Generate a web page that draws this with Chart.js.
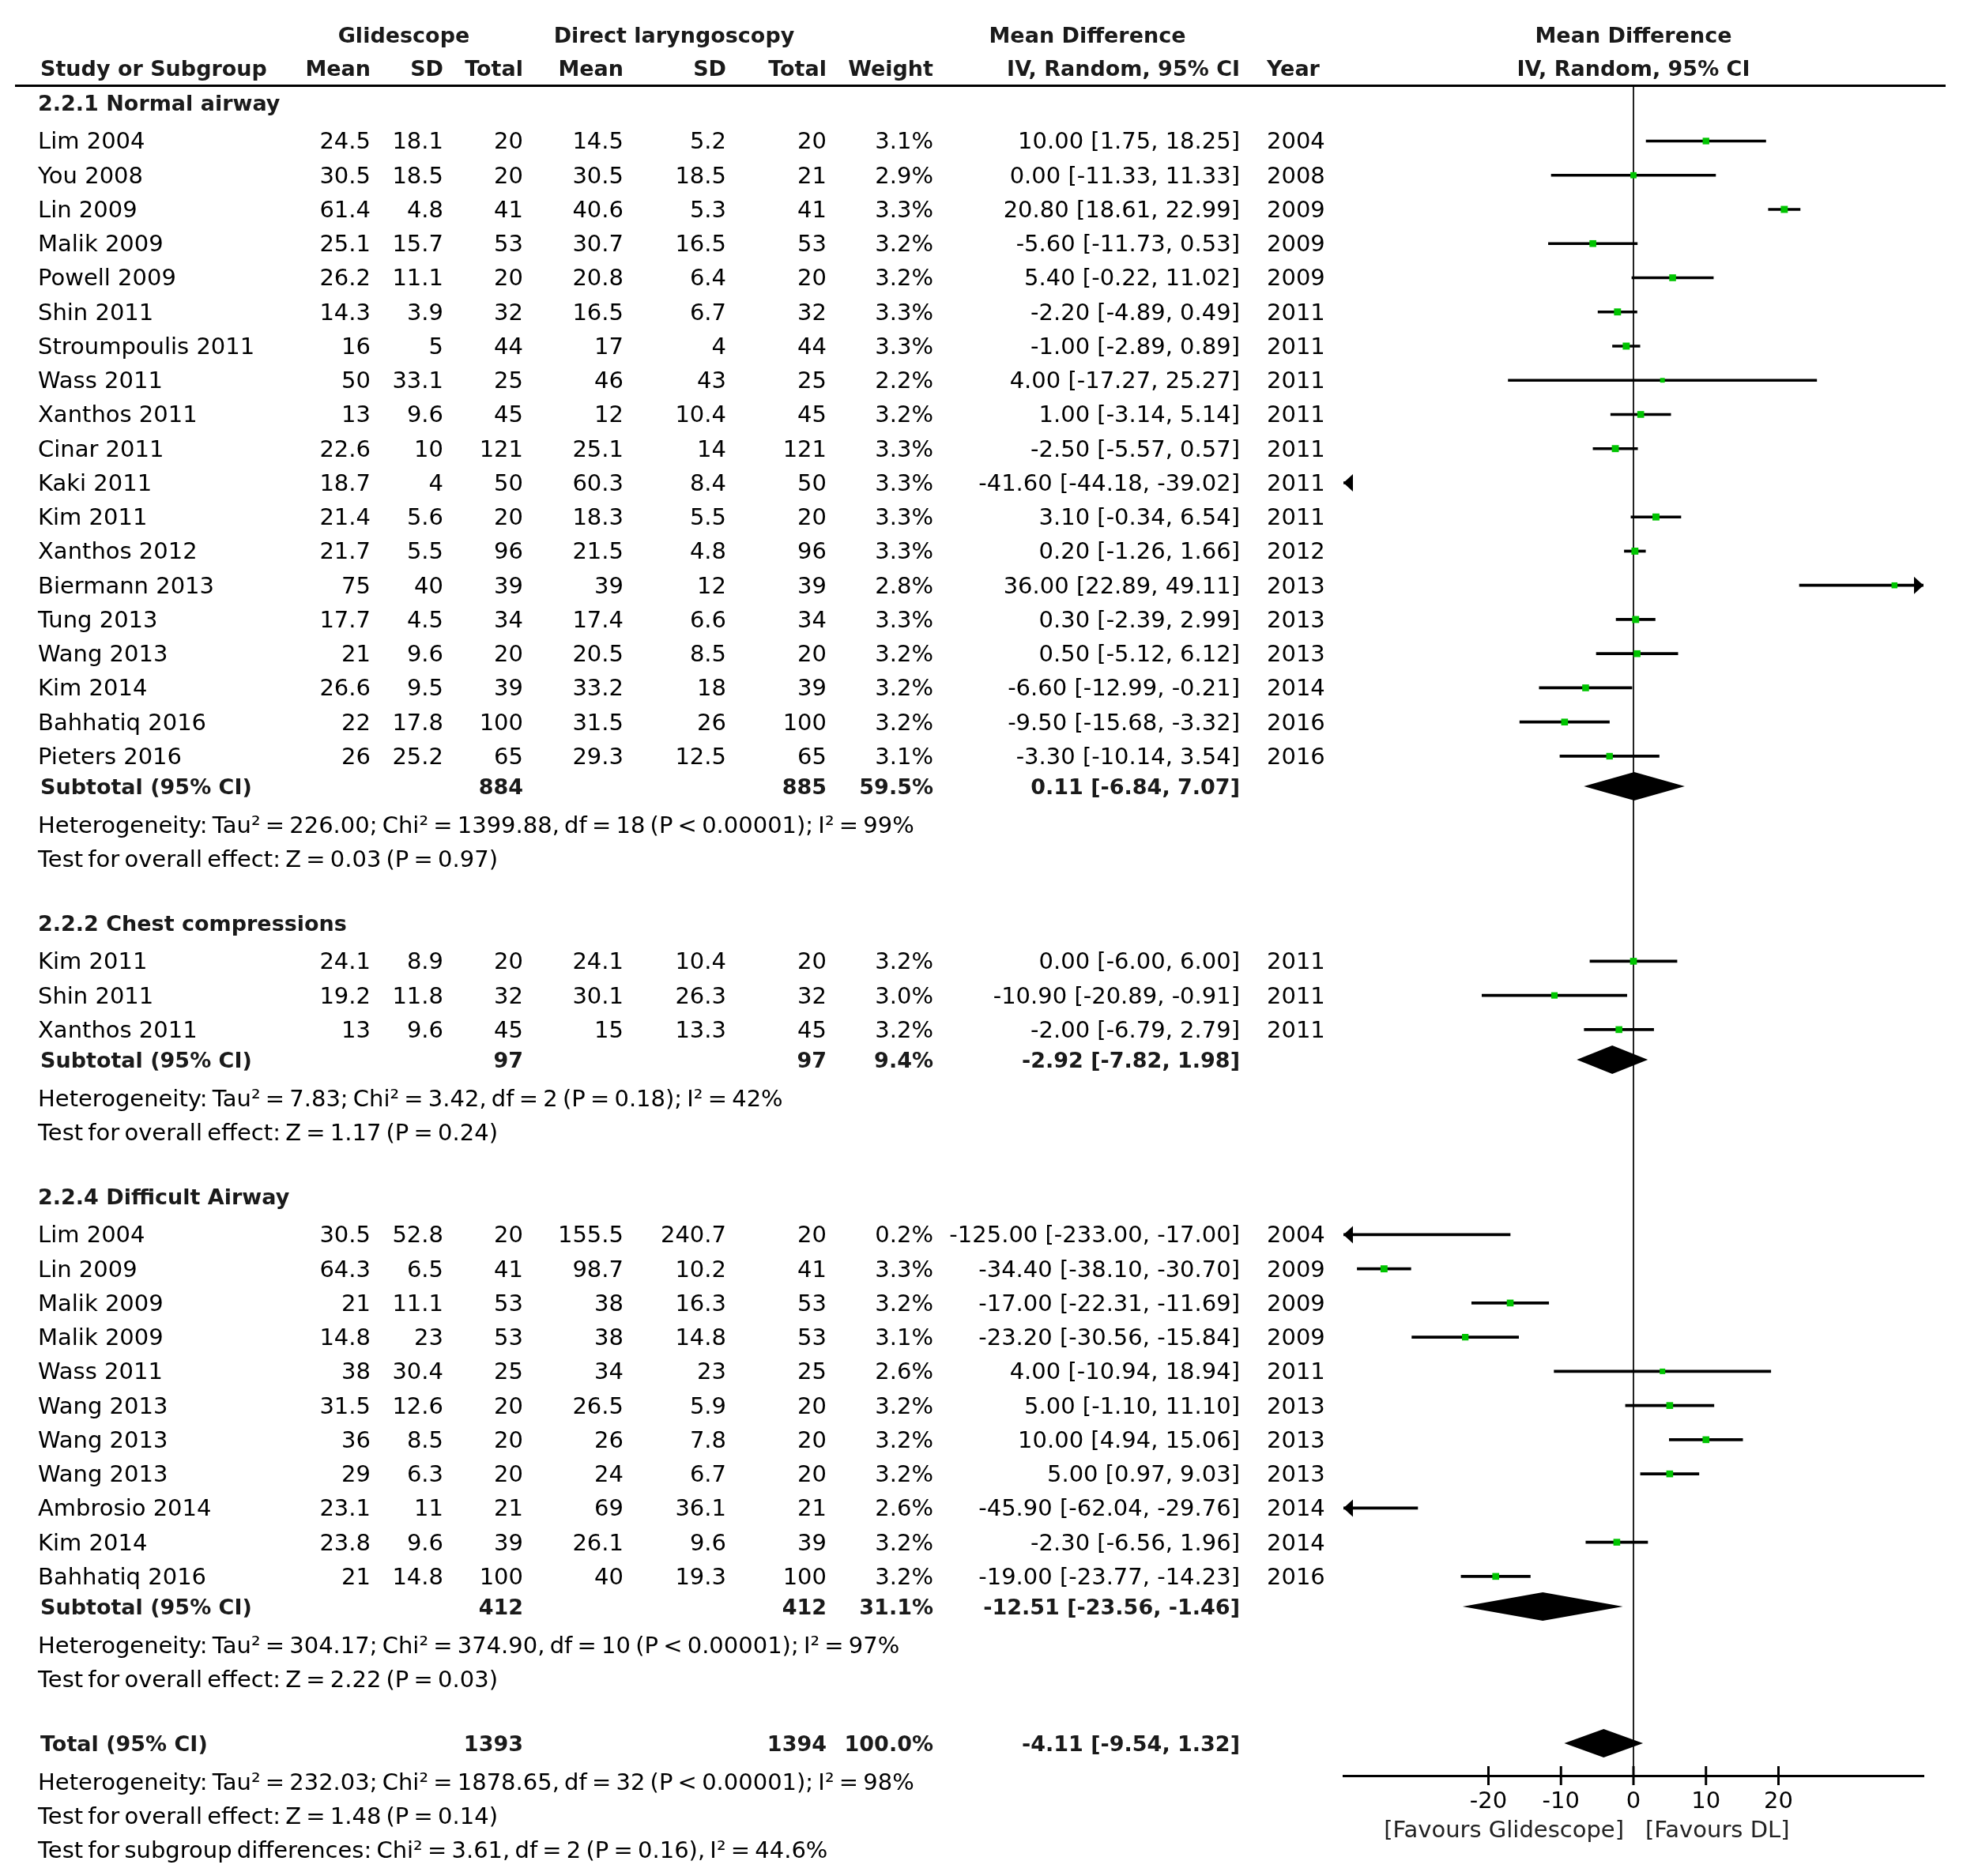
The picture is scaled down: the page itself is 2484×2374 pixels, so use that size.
<!DOCTYPE html>
<html>
<head>
<meta charset="utf-8">
<script src="https://cdn.jsdelivr.net/npm/chart.js@4.4.0/dist/chart.umd.min.js"></script>
<style>
  html, body { margin: 0; padding: 0; background: #fff; }
  #page { position: relative; width: 2484px; height: 2374px; overflow: hidden; background: #fff; }
  #plot { position: absolute; left: 0; top: 0; }
  .t { position: absolute; white-space: nowrap; line-height: 1; font-family: 'DejaVu Sans', sans-serif; font-size: 29px; color: #000; }
  .b { font-weight: bold; font-size: 27px; color: #1a1a1a; }
  .note { word-spacing: -3px; }
  .fav { color: #222; }
  #rule { position: absolute; left: 19px; width: 2443px; top: 107px; height: 3px; background: #000; }
</style>
</head>
<body>
<div id="page">
  <canvas id="plot" width="2484" height="2374"></canvas>
  <div id="rule"></div>
</div>
<script>
// ---- 2.2.1 Normal airway
const studies1 = ['Lim 2004', 'You 2008', 'Lin 2009', 'Malik 2009', 'Powell 2009', 'Shin 2011', 'Stroumpoulis 2011', 'Wass 2011', 'Xanthos 2011', 'Cinar 2011', 'Kaki 2011', 'Kim 2011', 'Xanthos 2012', 'Biermann 2013', 'Tung 2013', 'Wang 2013', 'Kim 2014', 'Bahhatiq 2016', 'Pieters 2016'];
const gMean1 = [24.5, 30.5, 61.4, 25.1, 26.2, 14.3, 16, 50, 13, 22.6, 18.7, 21.4, 21.7, 75, 17.7, 21, 26.6, 22, 26];
const gSD1 = [18.1, 18.5, 4.8, 15.7, 11.1, 3.9, 5, 33.1, 9.6, 10, 4, 5.6, 5.5, 40, 4.5, 9.6, 9.5, 17.8, 25.2];
const gN1 = [20, 20, 41, 53, 20, 32, 44, 25, 45, 121, 50, 20, 96, 39, 34, 20, 39, 100, 65];
const dMean1 = [14.5, 30.5, 40.6, 30.7, 20.8, 16.5, 17, 46, 12, 25.1, 60.3, 18.3, 21.5, 39, 17.4, 20.5, 33.2, 31.5, 29.3];
const dSD1 = [5.2, 18.5, 5.3, 16.5, 6.4, 6.7, 4, 43, 10.4, 14, 8.4, 5.5, 4.8, 12, 6.6, 8.5, 18, 26, 12.5];
const dN1 = [20, 21, 41, 53, 20, 32, 44, 25, 45, 121, 50, 20, 96, 39, 34, 20, 39, 100, 65];
const weight1 = [3.1, 2.9, 3.3, 3.2, 3.2, 3.3, 3.3, 2.2, 3.2, 3.3, 3.3, 3.3, 3.3, 2.8, 3.3, 3.2, 3.2, 3.2, 3.1];
const md1 = [10.00, 0.00, 20.80, -5.60, 5.40, -2.20, -1.00, 4.00, 1.00, -2.50, -41.60, 3.10, 0.20, 36.00, 0.30, 0.50, -6.60, -9.50, -3.30];
const lo1 = [1.75, -11.33, 18.61, -11.73, -0.22, -4.89, -2.89, -17.27, -3.14, -5.57, -44.18, -0.34, -1.26, 22.89, -2.39, -5.12, -12.99, -15.68, -10.14];
const hi1 = [18.25, 11.33, 22.99, 0.53, 11.02, 0.49, 0.89, 25.27, 5.14, 0.57, -39.02, 6.54, 1.66, 49.11, 2.99, 6.12, -0.21, -3.32, 3.54];
const year1 = [2004, 2008, 2009, 2009, 2009, 2011, 2011, 2011, 2011, 2011, 2011, 2011, 2012, 2013, 2013, 2013, 2014, 2016, 2016];

// ---- 2.2.2 Chest compressions
const studies2 = ['Kim 2011', 'Shin 2011', 'Xanthos 2011'];
const gMean2 = [24.1, 19.2, 13];
const gSD2 = [8.9, 11.8, 9.6];
const gN2 = [20, 32, 45];
const dMean2 = [24.1, 30.1, 15];
const dSD2 = [10.4, 26.3, 13.3];
const dN2 = [20, 32, 45];
const weight2 = [3.2, 3.0, 3.2];
const md2 = [0.00, -10.90, -2.00];
const lo2 = [-6.00, -20.89, -6.79];
const hi2 = [6.00, -0.91, 2.79];
const year2 = [2011, 2011, 2011];

// ---- 2.2.4 Difficult Airway
const studies3 = ['Lim 2004', 'Lin 2009', 'Malik 2009', 'Malik 2009', 'Wass 2011', 'Wang 2013', 'Wang 2013', 'Wang 2013', 'Ambrosio 2014', 'Kim 2014', 'Bahhatiq 2016'];
const gMean3 = [30.5, 64.3, 21, 14.8, 38, 31.5, 36, 29, 23.1, 23.8, 21];
const gSD3 = [52.8, 6.5, 11.1, 23, 30.4, 12.6, 8.5, 6.3, 11, 9.6, 14.8];
const gN3 = [20, 41, 53, 53, 25, 20, 20, 20, 21, 39, 100];
const dMean3 = [155.5, 98.7, 38, 38, 34, 26.5, 26, 24, 69, 26.1, 40];
const dSD3 = [240.7, 10.2, 16.3, 14.8, 23, 5.9, 7.8, 6.7, 36.1, 9.6, 19.3];
const dN3 = [20, 41, 53, 53, 25, 20, 20, 20, 21, 39, 100];
const weight3 = [0.2, 3.3, 3.2, 3.1, 2.6, 3.2, 3.2, 3.2, 2.6, 3.2, 3.2];
const md3 = [-125.00, -34.40, -17.00, -23.20, 4.00, 5.00, 10.00, 5.00, -45.90, -2.30, -19.00];
const lo3 = [-233.00, -38.10, -22.31, -30.56, -10.94, -1.10, 4.94, 0.97, -62.04, -6.56, -23.77];
const hi3 = [-17.00, -30.70, -11.69, -15.84, 18.94, 11.10, 15.06, 9.03, -29.76, 1.96, -14.23];
const year3 = [2004, 2009, 2009, 2009, 2011, 2013, 2013, 2013, 2014, 2014, 2016];

// ---- subtotals and total
const subTitles = ['2.2.1 Normal airway', '2.2.2 Chest compressions', '2.2.4 Difficult Airway'];
const subGN = [884, 97, 412];
const subDN = [885, 97, 412];
const subWeight = [59.5, 9.4, 31.1];
const subMD = [0.11, -2.92, -12.51];
const subLo = [-6.84, -7.82, -23.56];
const subHi = [7.07, 1.98, -1.46];
const subHet = [
  'Heterogeneity: Tau\u00b2 = 226.00; Chi\u00b2 = 1399.88, df = 18 (P < 0.00001); I\u00b2 = 99%',
  'Heterogeneity: Tau\u00b2 = 7.83; Chi\u00b2 = 3.42, df = 2 (P = 0.18); I\u00b2 = 42%',
  'Heterogeneity: Tau\u00b2 = 304.17; Chi\u00b2 = 374.90, df = 10 (P < 0.00001); I\u00b2 = 97%'
];
const subTest = [
  'Test for overall effect: Z = 0.03 (P = 0.97)',
  'Test for overall effect: Z = 1.17 (P = 0.24)',
  'Test for overall effect: Z = 2.22 (P = 0.03)'
];
const totalGN = 1393;
const totalDN = 1394;
const totalWeight = 100.0;
const totalMD = -4.11;
const totalLo = -9.54;
const totalHi = 1.32;
const totalNotes = [
  'Heterogeneity: Tau\u00b2 = 232.03; Chi\u00b2 = 1878.65, df = 32 (P < 0.00001); I\u00b2 = 98%',
  'Test for overall effect: Z = 1.48 (P = 0.14)',
  'Test for subgroup differences: Chi\u00b2 = 3.61, df = 2 (P = 0.16), I\u00b2 = 44.6%'
];

// ---- axis
const xMin = -40;
const xMax = 40;
const tickValues = [-20, -10, 0, 10, 20];
const tickLabels = ['-20', '-10', '0', '10', '20'];
const favours = ['[Favours Glidescope]', '[Favours DL]'];

const groups = [
  { studies: studies1, gMean: gMean1, gSD: gSD1, gN: gN1, dMean: dMean1, dSD: dSD1, dN: dN1, weight: weight1, md: md1, lo: lo1, hi: hi1, year: year1 },
  { studies: studies2, gMean: gMean2, gSD: gSD2, gN: gN2, dMean: dMean2, dSD: dSD2, dN: dN2, weight: weight2, md: md2, lo: lo2, hi: hi2, year: year2 },
  { studies: studies3, gMean: gMean3, gSD: gSD3, gN: gN3, dMean: dMean3, dSD: dSD3, dN: dN3, weight: weight3, md: md3, lo: lo3, hi: hi3, year: year3 }
];

// row layout, in row units
const RULE_POS = 2.49;
const FIRST = 1.12, SUB = 0.88, HET = 1.13, GAP = 1.87;

const studyRows = [];
const sumRows = [];
const textRows = [];
let pos = 3.0;
groups.forEach((g, gi) => {
  textRows.push({ pos, kind: 'title', gi });
  pos += FIRST;
  g.studies.forEach((s, si) => {
    studyRows.push({ pos, gi, si, md: g.md[si], lo: g.lo[si], hi: g.hi[si], weight: g.weight[si] });
    pos += 1;
  });
  pos += SUB - 1;
  sumRows.push({ pos, md: subMD[gi], lo: subLo[gi], hi: subHi[gi], gi });
  pos += HET;
  textRows.push({ pos, kind: 'het', gi });
  pos += 1;
  textRows.push({ pos, kind: 'test', gi });
  pos += GAP;
});
const totalPos = pos;
sumRows.push({ pos: totalPos, md: totalMD, lo: totalLo, hi: totalHi, gi: -1 });
const axisPos = totalPos + 0.95;

const fmt2 = v => v.toFixed(2);
const ciText = (m, l, h) => `${fmt2(m)} [${fmt2(l)}, ${fmt2(h)}]`;

function arrowHead(ctx, tipX, cy, dir) {
  ctx.beginPath();
  ctx.moveTo(tipX, cy);
  ctx.lineTo(tipX - dir * 12, cy - 11);
  ctx.lineTo(tipX - dir * 12, cy + 11);
  ctx.closePath();
  ctx.fill();
}

const forestExtras = {
  id: 'forestExtras',
  afterDatasetsDraw(chart) {
    const { ctx, chartArea } = chart;
    const x = chart.scales.x, y = chart.scales.y;
    ctx.save();
    ctx.fillStyle = '#000';
    sumRows.forEach(s => {
      const cy = y.getPixelForValue(s.pos);
      ctx.beginPath();
      ctx.moveTo(x.getPixelForValue(s.lo), cy);
      ctx.lineTo(x.getPixelForValue(s.md), cy - 18);
      ctx.lineTo(x.getPixelForValue(s.hi), cy);
      ctx.lineTo(x.getPixelForValue(s.md), cy + 18);
      ctx.closePath();
      ctx.fill();
    });
    studyRows.forEach(r => {
      const cy = y.getPixelForValue(r.pos);
      if (r.lo < x.min) arrowHead(ctx, chartArea.left, cy, -1);
      if (r.hi > x.max) arrowHead(ctx, chartArea.right, cy, 1);
    });
    ctx.strokeStyle = '#000';
    ctx.lineWidth = 3;
    x.ticks.forEach(t => {
      const px = x.getPixelForValue(t.value);
      ctx.beginPath();
      ctx.moveTo(px, chartArea.bottom - 12);
      ctx.lineTo(px, chartArea.bottom + 12);
      ctx.stroke();
    });
    ctx.restore();
  }
};

const chart = new Chart(document.getElementById('plot'), {
  type: 'scatter',
  data: {
    datasets: [
      {
        label: 'Study estimate',
        data: studyRows.map(r => ({ x: r.md, y: r.pos })),
        pointStyle: 'rect',
        pointRadius: studyRows.map(r => r.weight * 1.9),
        backgroundColor: '#00c400',
        borderWidth: 0,
        clip: 0
      },
      {
        type: 'bar',
        label: '95% CI',
        indexAxis: 'y',
        data: studyRows.map(r => ({ x: [r.lo, r.hi], y: r.pos })),
        backgroundColor: '#000',
        borderWidth: 0,
        barThickness: 3,
        clip: 0
      }
    ]
  },
  options: {
    responsive: false,
    animation: false,
    devicePixelRatio: 1,
    layout: { padding: { left: 1700, right: 50, top: 108, bottom: 67 } },
    plugins: { legend: { display: false }, tooltip: { enabled: false } },
    scales: {
      x: {
        type: 'linear',
        min: xMin,
        max: xMax,
        offset: false,
        beginAtZero: false,
        afterBuildTicks: s => { s.ticks = tickValues.map(v => ({ value: v })); },
        afterFit: s => { s.height = 60; },
        ticks: {
          autoSkip: false,
          maxRotation: 0,
          padding: 16,
          color: '#000',
          font: { family: 'DejaVu Sans', size: 29 },
          callback: (v, i) => tickLabels[i]
        },
        grid: {
          offset: false,
          drawTicks: false,
          lineWidth: 2,
          color: c => (c.tick && c.tick.value === 0) ? '#222' : 'rgba(0,0,0,0)'
        },
        border: { display: true, color: '#000', width: 3 }
      },
      y: {
        type: 'linear',
        display: false,
        reverse: true,
        offset: false,
        beginAtZero: false,
        grace: 0,
        grid: { offset: false },
        min: RULE_POS,
        max: axisPos
      }
    }
  },
  plugins: [forestExtras]
});

// ---- table text
const PAGE_W = 2484;
const COL = { name: 48, gMean: 469, gSD: 561, gN: 662, dMean: 789, dSD: 919, dN: 1046, weight: 1181, ci: 1569, year: 1603 };
const page = document.getElementById('page');

function put(str, x, yPx, align, cls) {
  const el = document.createElement('div');
  el.className = 't' + (cls ? ' ' + cls : '');
  el.textContent = str;
  el.style.top = yPx + 'px';
  if (align === 'left') {
    el.style.left = x + 'px';
    el.style.transform = 'translateY(-50%)';
  } else if (align === 'right') {
    el.style.right = (PAGE_W - x) + 'px';
    el.style.transform = 'translateY(-50%)';
  } else {
    el.style.left = x + 'px';
    el.style.transform = 'translate(-50%, -50%)';
  }
  page.appendChild(el);
}
const yOf = p => chart.scales.y.getPixelForValue(p);
const zeroX = chart.scales.x.getPixelForValue(0);

// header
const h1 = yOf(1.0), h2 = yOf(1.99);
put('Glidescope', 511, h1, 'center', 'b');
put('Direct laryngoscopy', 853, h1, 'center', 'b');
put('Mean Difference', 1376, h1, 'center', 'b');
put('Mean Difference', zeroX, h1, 'center', 'b');
put('Study or Subgroup', 51, h2, 'left', 'b');
put('Mean', COL.gMean, h2, 'right', 'b');
put('SD', COL.gSD, h2, 'right', 'b');
put('Total', COL.gN, h2, 'right', 'b');
put('Mean', COL.dMean, h2, 'right', 'b');
put('SD', COL.dSD, h2, 'right', 'b');
put('Total', COL.dN, h2, 'right', 'b');
put('Weight', COL.weight, h2, 'right', 'b');
put('IV, Random, 95% CI', COL.ci, h2, 'right', 'b');
put('Year', COL.year, h2, 'left', 'b');
put('IV, Random, 95% CI', zeroX, h2, 'center', 'b');

textRows.forEach(t => {
  const yy = yOf(t.pos);
  if (t.kind === 'title') put(subTitles[t.gi], COL.name, yy, 'left', 'b');
  else if (t.kind === 'het') put(subHet[t.gi], COL.name, yy, 'left', 'note');
  else put(subTest[t.gi], COL.name, yy, 'left', 'note');
});

studyRows.forEach(r => {
  const g = groups[r.gi], i = r.si, yy = yOf(r.pos);
  put(g.studies[i], COL.name, yy, 'left');
  put(String(g.gMean[i]), COL.gMean, yy, 'right');
  put(String(g.gSD[i]), COL.gSD, yy, 'right');
  put(String(g.gN[i]), COL.gN, yy, 'right');
  put(String(g.dMean[i]), COL.dMean, yy, 'right');
  put(String(g.dSD[i]), COL.dSD, yy, 'right');
  put(String(g.dN[i]), COL.dN, yy, 'right');
  put(g.weight[i].toFixed(1) + '%', COL.weight, yy, 'right');
  put(ciText(g.md[i], g.lo[i], g.hi[i]), COL.ci, yy, 'right');
  put(String(g.year[i]), COL.year, yy, 'left');
});

sumRows.forEach(s => {
  const yy = yOf(s.pos);
  const isTotal = s.gi < 0;
  put(isTotal ? 'Total (95% CI)' : 'Subtotal (95% CI)', 51, yy, 'left', 'b');
  put(String(isTotal ? totalGN : subGN[s.gi]), COL.gN, yy, 'right', 'b');
  put(String(isTotal ? totalDN : subDN[s.gi]), COL.dN, yy, 'right', 'b');
  put((isTotal ? totalWeight : subWeight[s.gi]).toFixed(1) + '%', COL.weight, yy, 'right', 'b');
  put(ciText(s.md, s.lo, s.hi), COL.ci, yy, 'right', 'b');
});

totalNotes.forEach((n, i) => put(n, COL.name, yOf(totalPos + HET + i), 'left', 'note'));

const favY = chart.chartArea.bottom + 68;
put(favours[0], zeroX - 12, favY, 'right', 'fav');
put(favours[1], zeroX + 15, favY, 'left', 'fav');
</script>
</body>
</html>
